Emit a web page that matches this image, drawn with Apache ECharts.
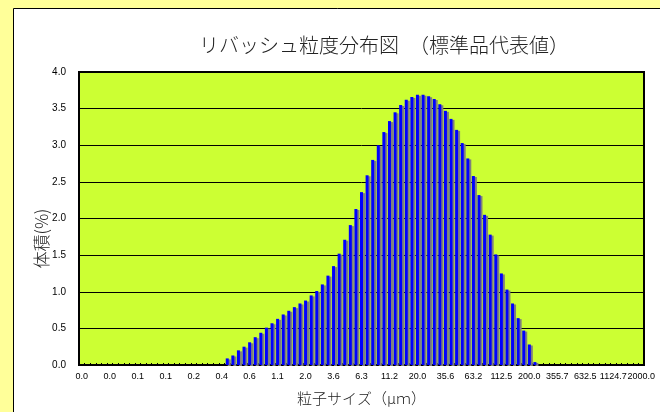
<!DOCTYPE html>
<html>
<head>
<meta charset="utf-8">
<script src="https://cdn.jsdelivr.net/npm/echarts@6/dist/echarts.min.js"></script>
<style>
  html, body { margin: 0; padding: 0; }
  #chart { width: 660px; height: 412px; }
</style>
</head>
<body>
<div id="chart"></div>
<script>
// 粒子径 (μm) — 1/20 decade steps
const sizes = [
  '0.0', '0.0', '0.0', '0.0', '0.0', '0.0', '0.0', '0.0', '0.1', '0.1',
  '0.1', '0.1', '0.1', '0.1', '0.1', '0.1', '0.1', '0.1', '0.2', '0.2',
  '0.2', '0.2', '0.3', '0.3', '0.3', '0.4', '0.4', '0.4', '0.5', '0.6',
  '0.6', '0.7', '0.8', '0.9', '1.0', '1.1', '1.3', '1.4', '1.6', '1.8',
  '2.0', '2.2', '2.5', '2.8', '3.2', '3.6', '4.0', '4.5', '5.0', '5.6',
  '6.3', '7.1', '8.0', '8.9', '10.0', '11.2', '12.6', '14.2', '15.9', '17.8',
  '20.0', '22.4', '25.2', '28.3', '31.7', '35.6', '39.9', '44.8', '50.2', '56.4',
  '63.2', '71.0', '79.6', '89.3', '100.2', '112.5', '126.2', '141.6', '158.9', '178.3',
  '200.0', '224.4', '251.8', '282.5', '317.0', '355.7', '399.1', '447.7', '502.4', '563.7',
  '632.5', '709.6', '796.2', '893.4', '1002.4', '1124.7', '1261.9', '1415.9', '1588.7', '1782.5',
  '2000.0'
];

// 体積 (%)
const volume = [
  0, 0, 0, 0, 0, 0, 0, 0, 0, 0,
  0, 0, 0, 0, 0, 0, 0, 0, 0, 0,
  0, 0, 0, 0, 0, 0, 0.09, 0.13, 0.20, 0.25,
  0.31, 0.38, 0.44, 0.51, 0.57, 0.63, 0.69, 0.74, 0.79, 0.84,
  0.88, 0.95, 1.01, 1.10, 1.22, 1.35, 1.52, 1.71, 1.91, 2.13,
  2.36, 2.59, 2.80, 3.00, 3.18, 3.33, 3.45, 3.55, 3.62, 3.66,
  3.69, 3.69, 3.67, 3.63, 3.56, 3.47, 3.36, 3.21, 3.03, 2.82,
  2.58, 2.32, 2.05, 1.78, 1.51, 1.25, 1.03, 0.84, 0.64, 0.47,
  0.28, 0.04, 0, 0, 0, 0, 0, 0, 0, 0,
  0, 0, 0, 0, 0, 0, 0, 0, 0, 0,
  0
];

const titleText = 'リバッシュ粒度分布図　（標準品代表値）';
const xName = '粒子サイズ（μｍ）';
const yName = '体積(%)';

const cjk = '"Noto Sans CJK JP", sans-serif';

const chart = echarts.init(document.getElementById('chart'));

chart.setOption({
  backgroundColor: '#FFFF99',
  animation: false,
  graphic: [
    {
      type: 'rect',
      z: -10,
      shape: { x: 13.5, y: 8.5, width: 700, height: 450 },
      style: { fill: '#FFFFFF', stroke: '#000000', lineWidth: 1 }
    }
  ],
  title: {
    text: titleText,
    left: 379,
    top: 30,
    textAlign: 'center',
    textStyle: {
      fontFamily: cjk,
      fontSize: 20,
      fontWeight: 300,
      color: '#222'
    }
  },
  grid: {
    left: 79,
    top: 72,
    right: 16,
    bottom: 47,
    show: true,
    backgroundColor: '#CCFF33',
    borderColor: '#000',
    borderWidth: 2
  },
  xAxis: {
    type: 'category',
    data: sizes,
    boundaryGap: true,
    name: xName,
    nameLocation: 'middle',
    nameGap: 26,
    nameMoveOverlap: false,
    nameTextStyle: {
      fontFamily: cjk,
      fontSize: 15,
      fontWeight: 300,
      color: '#222'
    },
    axisLine: { lineStyle: { color: '#000', width: 2 } },
    axisTick: {
      show: true,
      inside: true,
      length: 2,
      interval: 0,
      lineStyle: { color: '#000' }
    },
    axisLabel: {
      interval: 4,
      margin: 7,
      fontFamily: 'Liberation Sans, Arial, sans-serif',
      fontSize: 9,
      color: '#000'
    }
  },
  yAxis: {
    type: 'value',
    min: 0,
    max: 4,
    interval: 0.5,
    name: yName,
    nameLocation: 'middle',
    nameGap: 29,
    nameMoveOverlap: false,
    nameTextStyle: {
      fontFamily: cjk,
      fontSize: 17,
      fontWeight: 300,
      color: '#222',
      padding: [0, 40, 0, 0]
    },
    axisLine: { show: false },
    axisTick: { show: false },
    splitLine: { lineStyle: { color: '#000', width: 1 } },
    axisLabel: {
      margin: 13,
      fontFamily: 'Liberation Sans, Arial, sans-serif',
      fontSize: 10,
      color: '#000',
      formatter: v => v.toFixed(1)
    }
  },
  series: [
    {
      type: 'bar',
      data: volume,
      barWidth: 3,
      itemStyle: {
        color: '#0000FF',
        shadowColor: '#7F7F7F',
        shadowOffsetX: 2,
        shadowOffsetY: 1,
        shadowBlur: 0
      }
    }
  ]
});
</script>
</body>
</html>
